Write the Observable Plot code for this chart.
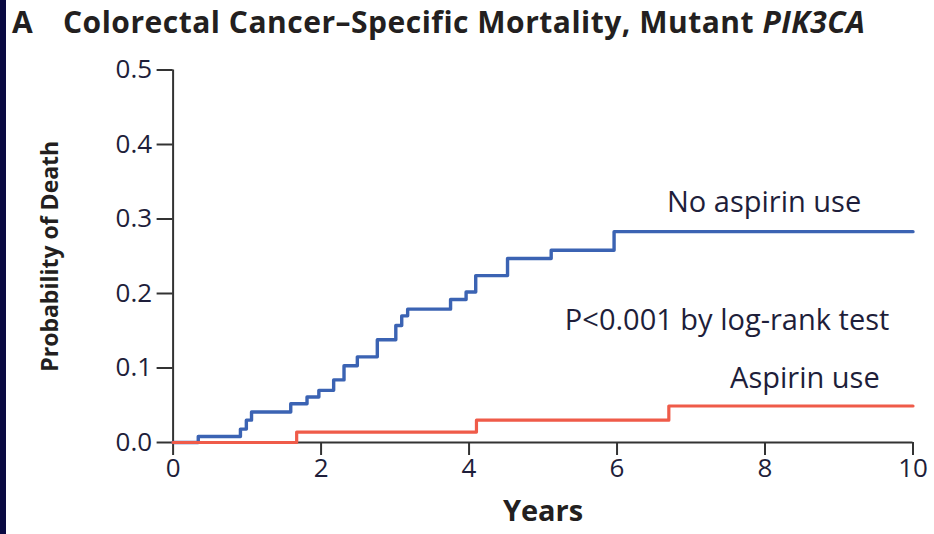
<!DOCTYPE html>
<html>
<head>
<meta charset="utf-8">
<script src="https://cdn.jsdelivr.net/npm/d3@7"></script>
<script src="https://cdn.jsdelivr.net/npm/@observablehq/plot@0.6"></script>
<style>
  html, body { margin: 0; padding: 0; background: #fff; }
  #wrap { position: relative; width: 934px; height: 534px; overflow: hidden; background: #fff; }
  #strip { position: absolute; left: 0; top: 0; width: 6px; height: 534px; background: #0a0a42; }
  #title { height: 50px; font-family: "Open Sans", Lato, sans-serif; font-weight: 700; font-size: 30px;
           color: #231f20; line-height: 44px; padding-left: 12px; white-space: nowrap; letter-spacing: 0.5px; }
  #title .lab { display: inline-block; width: 51px; }
  #chart svg { display: block; }
</style>
</head>
<body>
<div id="wrap">
  <div id="title"><span class="lab">A</span>Colorectal Cancer–Specific Mortality, Mutant <i>PIK3CA</i></div>
  <div id="chart"></div>
  <div id="strip"></div>
</div>
<script>
// Years since diagnosis (step times) and cumulative probability of death
const noAspirinYears = [0, 0.34, 0.91, 0.99, 1.06, 1.59, 1.81, 1.97, 2.17, 2.31, 2.49, 2.76, 3.01, 3.09, 3.17, 3.75, 3.96, 4.09, 4.52, 5.11, 5.96, 10];
const noAspirinProb  = [0, 0.008, 0.018, 0.030, 0.041, 0.052, 0.061, 0.070, 0.084, 0.103, 0.115, 0.138, 0.157, 0.170, 0.179, 0.192, 0.202, 0.224, 0.247, 0.258, 0.283, 0.283];
const aspirinYears   = [0, 1.67, 4.10, 6.70, 10];
const aspirinProb    = [0, 0.014, 0.030, 0.049, 0.049];

const xTicks = [0, 2, 4, 6, 8, 10];
const yTicks = [0, 0.1, 0.2, 0.3, 0.4, 0.5];

const labelTexts = ["No aspirin use", "P<0.001 by log-rank test", "Aspirin use"];
const labelX = [9.30, 9.68, 9.55];
const labelY = [0.322, 0.164, 0.086];

const noAspirin = noAspirinYears.map((t, i) => ({t, p: noAspirinProb[i]}));
const aspirin = aspirinYears.map((t, i) => ({t, p: aspirinProb[i]}));
const labels = labelTexts.map((text, i) => ({text, x: labelX[i], y: labelY[i]}));

const blue = "#3b63b3";
const red = "#ef5b49";
const ink = "#1e1e3a";
const font = "'Open Sans', Lato, sans-serif";

const chart = Plot.plot({
  width: 934,
  height: 484,
  marginLeft: 172.6,
  marginRight: 21.5,
  marginTop: 19.5,
  marginBottom: 92,
  style: { fontFamily: font, fontSize: "26px", color: ink, background: "#fff" },
  x: { domain: [0, 10], ticks: xTicks, label: null },
  y: { domain: [0, 0.5], ticks: yTicks, label: null, tickFormat: d3.format(".1f") },
  marks: [
    Plot.axisX({ticks: xTicks, tickSize: 13, tickPadding: 3, stroke: "#333", strokeWidth: 2, fontSize: 26, label: null}),
    Plot.axisY({ticks: yTicks, tickSize: 16, tickPadding: 5, stroke: "#333", strokeWidth: 2, fontSize: 26, label: null, tickFormat: d3.format(".1f")}),
    Plot.ruleY([0], {stroke: "#333", strokeWidth: 2}),
    Plot.ruleX([0], {stroke: "#333", strokeWidth: 2}),
    Plot.line(noAspirin, {x: "t", y: "p", curve: "step-after", stroke: blue, strokeWidth: 3.4}),
    Plot.line(aspirin, {x: "t", y: "p", curve: "step-after", stroke: red, strokeWidth: 3.2}),
    Plot.text(labels, {x: "x", y: "y", text: "text", textAnchor: "end", fontSize: 29, fill: ink}),
    Plot.text(["Probability of Death"], {frameAnchor: "left", textAnchor: "middle", rotate: -90, dx: -122, fontSize: 23, fontWeight: "bold", fill: "#231f20"}),
    Plot.text(["Years"], {frameAnchor: "bottom", textAnchor: "middle", dy: 78, fontSize: 29, fontWeight: "bold", fill: "#231f20"})
  ]
});
document.getElementById("chart").appendChild(chart);
</script>
</body>
</html>
